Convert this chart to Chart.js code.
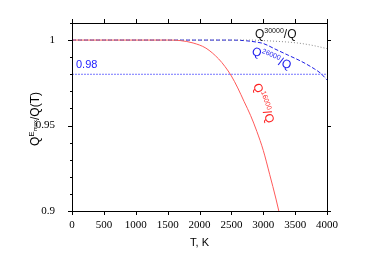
<!DOCTYPE html>
<html>
<head>
<meta charset="utf-8">
<script src="https://cdn.jsdelivr.net/npm/chart.js@4"></script>
<style>
  html, body { margin: 0; padding: 0; background: #fff; }
  #wrap { width: 374px; height: 262px; }
</style>
</head>
<body>
<div id="wrap"><canvas id="qChart" width="374" height="262"></canvas></div>
<script>
'use strict'

// temperatures (K) and ratios
let tRed = [0, 1500, 1700, 1900, 2100, 2300, 2400, 2500, 2600, 2700, 2800, 2900, 3000, 3100, 3200, 3300];
let qRed = [1, 1, 0.9997, 0.9983, 0.9953, 0.989, 0.9845, 0.979, 0.972, 0.964, 0.956, 0.9465, 0.9355, 0.9215, 0.907, 0.891];

let tBlue = [0, 2500, 2700, 2900, 3000, 3200, 3400, 3600, 3800, 3900, 4000];
let qBlue = [1, 1, 0.9997, 0.9988, 0.998, 0.9945, 0.991, 0.9875, 0.9832, 0.9806, 0.9767];

let tGray = [0, 2800, 3000, 3200, 3400, 3600, 3800, 4000];
let qGray = [1, 1, 0.9997, 0.9993, 0.9988, 0.998, 0.9967, 0.995];

let tRef = [0, 4000];
let qRef = [0.98, 0.98];

let xTicks = [0, 500, 1000, 1500, 2000, 2500, 3000, 3500, 4000];
let yMajor = [0.9, 0.95, 1];
let yMinor = [0.9, 0.91, 0.92, 0.93, 0.94, 0.95, 0.96, 0.97, 0.98, 0.99, 1, 1.01];

const pts = (xs, ys) => xs.map((x, i) => ({ x: x, y: ys[i] }));

const serif = '"Liberation Serif", "DejaVu Serif", serif';
const sans = '"Liberation Sans", Arial, sans-serif';

// draws a string made of [text, size, dy] parts from a start point
function drawParts(ctx, parts, color) {
    let x = 0;
    ctx.fillStyle = color;
    ctx.textBaseline = 'alphabetic';
    ctx.textAlign = 'left';
    for (const p of parts) {
        ctx.font = p[1] + 'px ' + sans;
        ctx.fillText(p[0], x, p[2]);
        x += ctx.measureText(p[0]).width;
    }
    return x;
}

const framePlugin = {
    id: 'frame',
    afterDraw(chart) {
        const ctx = chart.ctx;
        const a = chart.chartArea;
        const xs = chart.scales.x, ys = chart.scales.y;
        ctx.save();
        ctx.strokeStyle = '#000';
        ctx.lineWidth = 1;
        ctx.strokeRect(Math.round(a.left) + 0.5, Math.round(a.top) + 0.5,
            Math.round(a.right - a.left), Math.round(a.bottom - a.top));
        ctx.beginPath();
        for (const v of xTicks) {
            const px = Math.round(xs.getPixelForValue(v)) + 0.5;
            ctx.moveTo(px, a.bottom); ctx.lineTo(px, a.bottom + 4);
            ctx.moveTo(px, a.top); ctx.lineTo(px, a.top - 4);
        }
        for (const v of yMinor) {
            const py = Math.round(ys.getPixelForValue(v)) + 0.5;
            ctx.moveTo(a.left, py); ctx.lineTo(a.left - 2, py);
        }
        for (const v of yMajor) {
            const py = Math.round(ys.getPixelForValue(v)) + 0.5;
            ctx.moveTo(a.left, py); ctx.lineTo(a.left - 4, py);
            ctx.moveTo(a.right, py); ctx.lineTo(a.right + 4, py);
        }
        ctx.stroke();

        // y axis title
        ctx.save();
        ctx.translate(39, 146);
        ctx.rotate(-Math.PI / 2);
        drawParts(ctx, [['Q', 12, 0], ['E', 8, -5], ['max', 6, -2], ['/Q(T)', 12, 0]], '#000');
        ctx.restore();

        // 0.98 label
        ctx.font = '11px ' + sans;
        ctx.fillStyle = '#2020ff';
        ctx.textAlign = 'left';
        ctx.textBaseline = 'alphabetic';
        ctx.fillText('0.98', 76, 68);

        // curve labels
        ctx.save();
        ctx.translate(255, 38);
        drawParts(ctx, [['Q', 12, 0], ['30000', 7, -5], ['/Q', 12, 0]], '#111');
        ctx.restore();

        ctx.save();
        ctx.translate(251, 54);
        ctx.rotate(22 * Math.PI / 180);
        drawParts(ctx, [['Q', 12, 0], ['26000', 7, -5], ['/Q', 12, 0]], '#2020ee');
        ctx.restore();

        ctx.save();
        ctx.translate(253, 85);
        ctx.rotate(70 * Math.PI / 180);
        drawParts(ctx, [['Q', 12, 0], ['16000', 7, -5], ['/Q', 12, 0]], '#ff2020');
        ctx.restore();

        ctx.restore();
    }
};

const dataQ = {
    datasets: [
        {
            label: 'ref',
            data: pts(tRef, qRef),
            borderColor: 'rgba(70,70,255,0.75)',
            borderWidth: 1,
            borderDash: [2, 1]
        },
        {
            label: 'Q30000/Q',
            data: pts(tGray, qGray),
            borderColor: '#888',
            borderWidth: 1,
            borderDash: [1, 2]
        },
        {
            label: 'Q16000/Q',
            data: pts(tRed, qRed),
            borderColor: 'rgb(255,90,90)',
            borderWidth: 1
        },
        {
            label: 'Q26000/Q',
            data: pts(tBlue, qBlue),
            borderColor: 'rgb(30,30,230)',
            borderWidth: 1,
            borderDash: [4, 2]
        }
    ]
};

const configQ = {
    type: 'line',
    data: dataQ,
    options: {
        responsive: false,
        animation: false,
        layout: { padding: { top: 23, right: 47, left: 0, bottom: 0 } },
        elements: { point: { radius: 0 }, line: { cubicInterpolationMode: 'monotone', fill: false } },
        plugins: { legend: { display: false }, tooltip: { enabled: false } },
        scales: {
            x: {
                type: 'linear',
                min: 0,
                max: 4000,
                grid: { display: false },
                border: { display: false },
                ticks: {
                    stepSize: 500,
                    maxRotation: 0,
                    padding: 0,
                    color: '#000',
                    font: { family: serif, size: 11 },
                    callback: v => String(v)
                },
                title: {
                    display: true,
                    text: 'T, K',
                    color: '#000',
                    font: { family: sans, size: 11 },
                    padding: { top: 3, bottom: 12 }
                },
                afterFit(s) { s.height = 51; }
            },
            y: {
                min: 0.9,
                max: 1.01,
                grid: { display: false },
                border: { display: false },
                ticks: {
                    stepSize: 0.05,
                    padding: 9,
                    color: '#000',
                    font: { family: serif, size: 11 },
                    callback: v => yMajor.some(m => Math.abs(m - v) < 1e-6) ? String(+v.toFixed(2)) : ''
                },
                afterFit(s) { s.width = 72; }
            }
        }
    },
    plugins: [framePlugin]
};

const chartQ = new Chart(document.getElementById('qChart'), configQ);
</script>
</body>
</html>
